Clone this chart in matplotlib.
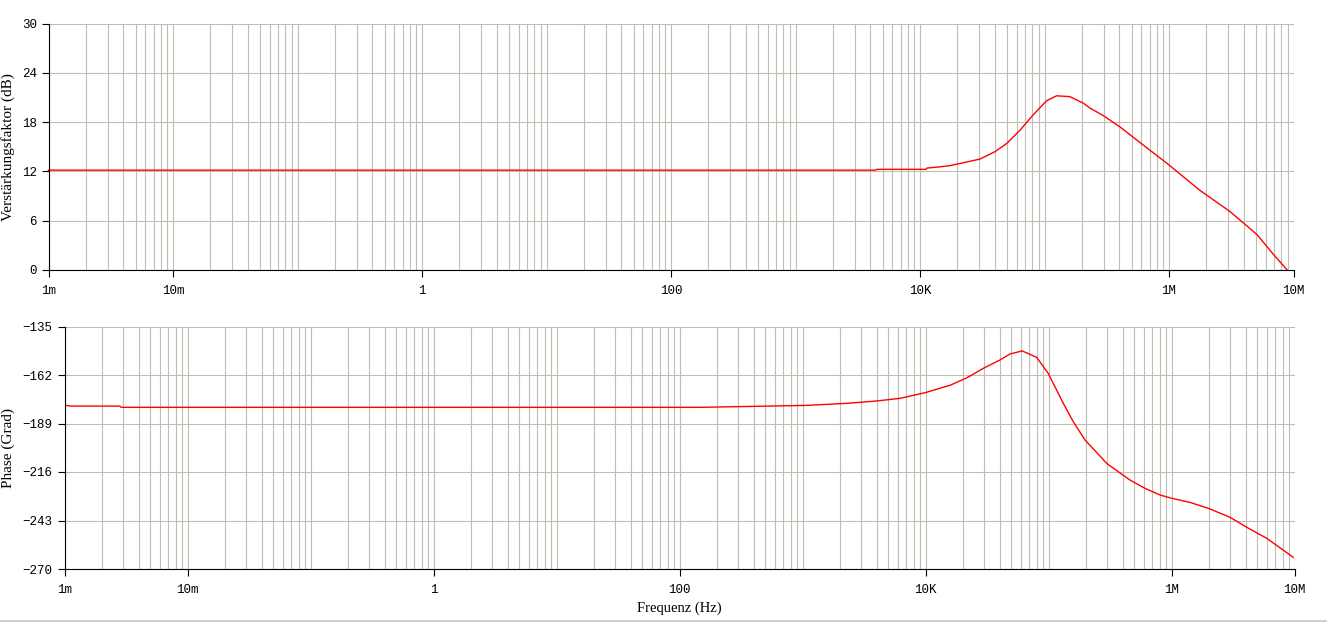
import matplotlib
matplotlib.use("Agg")
import matplotlib.pyplot as plt
from matplotlib.ticker import FixedLocator, LogLocator, NullFormatter
from matplotlib.lines import Line2D

# Gain curve (Hz, dB)
freq_gain = [1e-3, 4.4e3, 4.5e3, 1.12e4, 1.13e4, 1.43e4, 1.74e4, 3.03e4, 4.0e4, 4.97e4,
             6.35e4, 8.13e4, 1.04e5, 1.25e5, 1.6e5, 2.05e5, 2.32e5, 2.96e5, 4.05e5,
             6.22e5, 9.6e5, 1.77e6, 3.1e6, 5.1e6, 6.9e6, 8.9e6]
gain_db = [12.15, 12.15, 12.25, 12.25, 12.4, 12.55, 12.7, 13.5, 14.4, 15.4,
           17.0, 18.9, 20.6, 21.2, 21.1, 20.3, 19.7, 18.8, 17.4,
           15.2, 13.0, 9.7, 7.1, 4.3, 1.9, 0.0]

# Phase curve (Hz, degrees)
freq_phase = [1e-3, 1.13e-3, 2.8e-3, 2.9e-3, 1.47e2, 4.5e2, 1.1e3, 2.26e3, 3.96e3,
              6.2e3, 1.0e4, 1.6e4, 2.18e4, 2.95e4, 4.04e4, 4.86e4, 6.12e4, 8.02e4,
              9.95e4, 1.32e5, 1.59e5, 1.98e5, 2.62e5, 2.97e5, 4.6e5,
              6.1e5, 8.07e5, 1.0e6, 1.41e6, 1.99e6, 2.99e6, 4.22e6, 5.94e6, 9.77e6]
phase_deg = [-178.9, -179.3, -179.3, -180.0, -180.0, -179.4, -178.9, -177.8, -176.5,
             -175.0, -171.8, -167.6, -163.5, -158.3, -153.6, -150.3, -148.6, -152.2,
             -161.1, -177.8, -188.0, -198.2, -207.1, -211.2, -220.5,
             -225.1, -228.8, -230.6, -232.9, -236.2, -241.2, -247.3, -252.9, -263.5]

xtick_pos = [1e-3, 1e-2, 1, 1e2, 1e4, 1e6, 1e7]
xtick_labels = ["1m", "10m", "1", "100", "10K", "1M", "10M"]
gain_ticks = [0, 6, 12, 18, 24, 30]
phase_ticks = [-270, -243, -216, -189, -162, -135]

W, H = 1327, 622
grid_col = "#c0bdb6"
mono = "Liberation Mono"
serif = "Liberation Serif"

fig = plt.figure(figsize=(W / 100, H / 100), dpi=100)

def style_axes(ax, yticks):
    ax.set_xscale("log")
    ax.set_xlim(1e-3, 1e7)
    ax.set_ylim(yticks[0], yticks[-1])
    ax.xaxis.set_major_locator(FixedLocator(xtick_pos))
    ax.set_xticklabels(xtick_labels, family=mono, fontsize=9)
    ax.xaxis.set_minor_locator(LogLocator(base=10, subs=range(1, 10), numticks=100))
    ax.xaxis.set_minor_formatter(NullFormatter())
    ax.set_yticks(yticks)
    ax.set_yticklabels([str(v).replace("-", "\u2212") for v in yticks],
                       family=mono, fontsize=9)
    ax.tick_params(axis="x", which="minor", length=0)
    ax.tick_params(axis="both", which="major", length=5, width=0.8, direction="out",
                   colors="black")
    ax.tick_params(axis="x", which="major", pad=6)
    ax.grid(True, axis="x", which="both", color=grid_col, lw=0.8)
    ax.grid(True, axis="y", which="major", color=grid_col, lw=0.8)
    ax.set_axisbelow(True)
    ax.spines["top"].set_visible(False)
    ax.spines["right"].set_visible(False)
    ax.spines["left"].set_linewidth(0.8)
    ax.spines["bottom"].set_linewidth(0.8)

# top: gain
ax1 = fig.add_axes([48.5 / W, (H - 270) / H, 1245 / W, 246.5 / H])
style_axes(ax1, gain_ticks)
ax1.plot(freq_gain, gain_db, color="#ff0000", lw=1.0, clip_on=False)
ax1.set_ylabel("Verstärkungsfaktor (dB)", family=serif, fontsize=11)
ax1.yaxis.set_label_coords((15 - 48.5) / 1245, 0.5)

# bottom: phase
ax2 = fig.add_axes([64.5 / W, (H - 569) / H, 1230 / W, 242.5 / H])
style_axes(ax2, phase_ticks)
ax2.plot(freq_phase, phase_deg, color="#ff0000", lw=1.0)
ax2.set_ylabel("Phase (Grad)", family=serif, fontsize=11)
ax2.yaxis.set_label_coords((15 - 64.5) / 1230, 0.5)
ax2.set_xlabel("Frequenz (Hz)", family=serif, fontsize=10.5, labelpad=4)

fig.add_artist(Line2D([0, 1], [1.5 / H, 1.5 / H], color="#d4d0c8", lw=1.5))

fig.savefig("out.png", dpi=100)
